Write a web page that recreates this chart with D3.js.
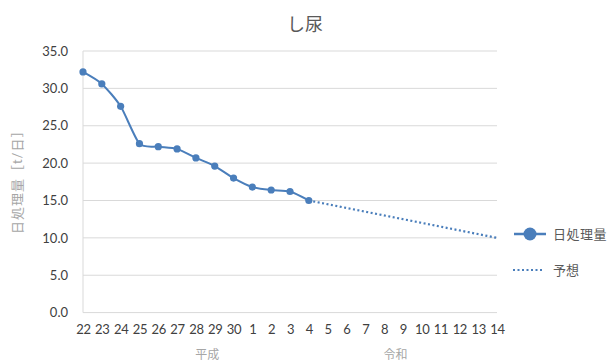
<!DOCTYPE html>
<html><head><meta charset="utf-8">
<script src="https://cdn.jsdelivr.net/npm/d3@7"></script>
<style>body{margin:0;background:#fff;overflow:hidden}</style>
</head><body>
<svg id="c" width="609" height="362"></svg>
<script>
const categories = ["22","23","24","25","26","27","28","29","30","1","2","3","4","5","6","7","8","9","10","11","12","13","14"];
const actual = [32.2,30.6,27.6,22.6,22.2,21.9,20.7,19.6,18.0,16.8,16.4,16.2,15.0];
const forecastCats = ["4","14"];
const forecastVals = [15.0,10.0];
const yTicks = [0,5,10,15,20,25,30,35];
const eraLabels = [{label:"平成", a:"28", b:"29"},{label:"令和", a:"8", b:"9"}];
const title = "し尿";
const yTitle = "日処理量［t/日］";
const legendNames = ["日処理量","予想"];

const svg = d3.select("#c");
const W=609,H=362;
const m={l:83,r:497,t:51,b:312.6};
const color="#4a7ebb";
const font="Lato, 'Noto Sans CJK JP', sans-serif";

const x = d3.scalePoint().domain(categories).range([m.l,m.r]);
const y = d3.scaleLinear().domain([0,35]).range([m.b,m.t]);

svg.append("rect").attr("width",W).attr("height",H).attr("fill","#fff");

// grid
svg.append("g").selectAll("line").data(yTicks).join("line")
 .attr("x1",m.l).attr("x2",m.r).attr("y1",d=>y(d)).attr("y2",d=>y(d))
 .attr("stroke","#d9d9d9").attr("stroke-width",1);
svg.append("line").attr("x1",m.l).attr("x2",m.l).attr("y1",m.t).attr("y2",m.b).attr("stroke","#d9d9d9");

// y axis
const ya = svg.append("g").attr("transform",`translate(${m.l-6},0)`)
 .call(d3.axisLeft(y).tickValues(yTicks).tickFormat(d3.format(".1f")).tickSize(0));
ya.select(".domain").remove();
ya.selectAll("text").attr("font-family",font).attr("font-size",13).attr("fill","#404040").attr("dx",-6);

// x axis
const xa = svg.append("g").attr("transform",`translate(0,${m.b})`)
 .call(d3.axisBottom(x).tickSize(0));
xa.select(".domain").remove();
xa.selectAll("text").attr("font-family",font).attr("font-size",13).attr("fill","#404040").attr("dy","1.45em").attr("letter-spacing","-0.3px");

// era labels
svg.append("g").selectAll("text").data(eraLabels).join("text")
 .attr("x",d=>(x(d.a)+x(d.b))/2+2).attr("y",359)
 .attr("text-anchor","middle").attr("font-family",font).attr("font-size",12).attr("fill","#a6a6a6")
 .text(d=>d.label);

// title
svg.append("text").attr("x",305).attr("y",31).attr("text-anchor","middle")
 .attr("font-family",font).attr("font-size",18).attr("fill","#595959").text(title);

// y title
svg.append("text").attr("transform",`translate(22,${(m.t+m.b)/2-3}) rotate(-90)`)
 .attr("text-anchor","middle").attr("font-family",font).attr("font-size",13).attr("letter-spacing","1px").attr("fill","#a6a6a6").text(yTitle);

// lines
const actData = actual.map((v,i)=>({c:categories[i],v}));
const line = d3.line().x(d=>x(d.c)).y(d=>y(d.v)).curve(d3.curveCardinal.tension(0.3));
svg.append("path").datum(actData).attr("d",line).attr("fill","none").attr("stroke",color).attr("stroke-width",2);
const fcData = forecastCats.map((c,i)=>({c,v:forecastVals[i]}));
svg.append("path").datum(fcData).attr("d",d3.line().x(d=>x(d.c)).y(d=>y(d.v)))
 .attr("fill","none").attr("stroke",color).attr("stroke-width",2.2).attr("stroke-dasharray","2,2.5");
svg.append("g").selectAll("circle").data(actData).join("circle")
 .attr("cx",d=>x(d.c)).attr("cy",d=>y(d.v)).attr("r",3.6).attr("fill",color);

// legend
const lg = svg.append("g");
lg.append("line").attr("x1",514).attr("x2",546).attr("y1",234).attr("y2",234).attr("stroke",color).attr("stroke-width",2.5);
lg.append("circle").attr("cx",530).attr("cy",234).attr("r",6.5).attr("fill",color);
lg.append("text").attr("x",553).attr("y",239).attr("font-family",font).attr("font-size",13).attr("fill","#595959").attr("letter-spacing","0.5px").text(legendNames[0]);
lg.append("line").attr("x1",513).attr("x2",543).attr("y1",270).attr("y2",270).attr("stroke",color).attr("stroke-width",2.2).attr("stroke-dasharray","2,2.5");
lg.append("text").attr("x",553).attr("y",275).attr("font-family",font).attr("font-size",13).attr("fill","#595959").text(legendNames[1]);
</script>
</body></html>
